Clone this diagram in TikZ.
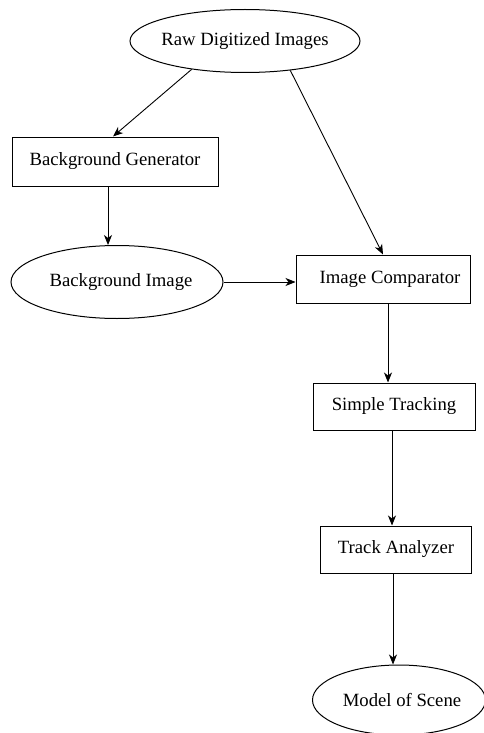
\documentclass[tikz,border=0pt]{standalone}
\usepackage{fontspec}
\setmainfont{Liberation Serif}
\usetikzlibrary{shapes.geometric,arrows.meta}
\begin{document}
\begin{tikzpicture}[x=1pt,y=-1pt,
  every node/.style={font=\fontsize{18.7}{22}\selectfont, line width=1pt},
  ellnode/.style={ellipse, draw, inner xsep=-6pt, inner ysep=0pt},
  boxnode/.style={rectangle, draw, inner sep=0pt},
  conn/.style={line width=0.9pt, -{Stealth[length=10pt,width=8pt,inset=3pt]}}]
\useasboundingbox (0,0) rectangle (484,733);
\node[ellnode, minimum width=230, minimum height=63] (raw) at (245,41) {Raw Digitized Images};
\node[boxnode, minimum width=206, minimum height=49] (bg) at (115,161.5) {Background Generator};
\node[ellnode, minimum width=212, minimum height=73] (bi) at (117,282) {\hspace*{8pt}Background Image};
\node[boxnode, minimum width=174, minimum height=48] (ic) at (383,279) {\hspace*{14pt}Image Comparator};
\node[boxnode, minimum width=162, minimum height=47] (st) at (394,406.5) {Simple Tracking};
\node[boxnode, minimum width=151, minimum height=47] (ta) at (396,549.5) {Track Analyzer};
\node[ellnode, minimum width=173, minimum height=70] (ms) at (399,700) {\hspace*{6pt}Model of Scene};
\draw[conn] (raw.208) -- ([xshift=-2pt]bg.north);
\draw[conn] (raw.327) -- (ic.north);
\draw[conn] ([xshift=-7pt]bg.south) -- ([xshift=-7pt]bg.south |- bi.north);
\draw[conn] (bi.east) -- (bi.east -| ic.west);
\draw[conn] ([xshift=5pt]ic.south) -- ([xshift=5pt]ic.south |- st.north);
\draw[conn] ([xshift=-2pt]st.south) -- ([xshift=-2pt]st.south |- ta.north);
\draw[conn] ([xshift=-3pt]ta.south) -- ([xshift=-3pt]ta.south |- ms.north);
\end{tikzpicture}
\end{document}
